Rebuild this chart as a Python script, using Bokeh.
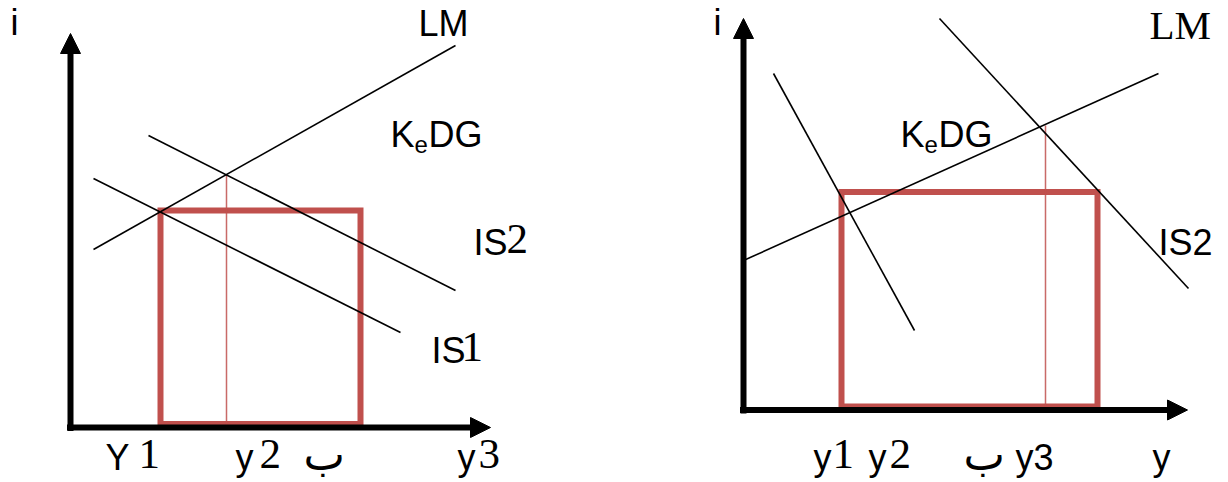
from bokeh.plotting import figure
from bokeh.models import Range1d, Arrow, NormalHead
from bokeh.layouts import row
from bokeh.core.properties import value
from bokeh.embed import file_html
from bokeh.resources import INLINE

RED = "#C0504D"
SANS = "Liberation Sans"
SERIF = "Liberation Serif"

# ---- left diagram: IS shifts from IS1 to IS2 along an upward LM ----
left_lm_x = [2.3, 38.5]
left_lm_y = [17.8, 38.2]
left_is1_x = [2.3, 33.0]
left_is1_y = [24.9, 9.5]
left_is2_x = [7.8, 38.5]
left_is2_y = [29.2, 13.7]
left_box_lr = [9.0, 29.0]
left_box_bt = [0.35, 21.7]
left_drop_x = [15.6, 15.6]
left_drop_y = [25.3, 0.0]
left_axis_tip = [42.0, 39.4]

# ---- right diagram: steep IS, flatter LM ----
right_lm_x = [0.0, 41.5]
right_lm_y = [14.95, 33.65]
right_is1_x = [3.0, 17.1]
right_is1_y = [33.65, 7.95]
right_is2_x = [19.6, 44.5]
right_is2_y = [39.15, 12.15]
right_box_lr = [9.8, 35.4]
right_box_bt = [0.35, 21.8]
right_drop_x = [30.2, 30.2]
right_drop_y = [28.45, 0.0]
right_axis_tip = [44.4, 39.15]


def panel(width, xr, yr):
    p = figure(width=width, height=482, x_range=Range1d(*xr), y_range=Range1d(*yr),
               output_backend="svg", toolbar_location=None, min_border=0,
               x_axis_location=None, y_axis_location=None)
    p.grid.visible = False
    p.outline_line_color = None
    p.background_fill_color = "white"
    p.border_fill_color = "white"
    return p


def draw(p, lm, is1, is2, box_lr, box_bt, drop, tip):
    p.quad(left=[box_lr[0]], right=[box_lr[1]], bottom=[box_bt[0]], top=[box_bt[1]],
           fill_color=None, line_color=RED, line_width=6, line_join="miter")
    p.line(drop[0], drop[1], line_color=RED, line_alpha=0.85, line_width=1.5)
    for xs, ys in (lm, is1, is2):
        p.line(xs, ys, line_color="black", line_width=1.6)
    head = dict(size=20, fill_color="black", line_color="black", line_width=1)
    p.add_layout(Arrow(end=NormalHead(**head), x_start=-0.35, y_start=0, x_end=tip[0], y_end=0,
                       line_width=6, line_color="black"))
    p.add_layout(Arrow(end=NormalHead(**head), x_start=0, y_start=-0.35, x_end=0, y_end=tip[1],
                       line_width=6, line_color="black"))


def label(p, xs, ys, texts, font, size):
    # baseline sits slightly high in the svg text layout; lift by a size-proportional amount
    p.text(x=xs, y=ys, text=texts, text_font=value(font), text_font_size=value(f"{size}px"),
           text_color="black", text_baseline="alphabetic", text_align="left",
           y_offset=-0.375 * size)


left = panel(614, (-7.0, 54.4), (-5.5, 42.7))
draw(left, (left_lm_x, left_lm_y), (left_is1_x, left_is1_y), (left_is2_x, left_is2_y),
     left_box_lr, left_box_bt, (left_drop_x, left_drop_y), left_axis_tip)
label(left, [-6.0, 34.8, 32.0, 35.8, 40.3, 36.1, 3.5, 16.5, 38.7],
      [39.2, 39.1, 28.0, 28.0, 17.2, 6.4, -4.3, -4.3, -4.3],
      ["i", "LM", "K", "DG", "IS", "IS", "Y", "y", "y"], SANS, 36)
label(left, [34.4], [27.4], ["e"], SANS, 24)
label(left, [43.6, 39.1, 6.8, 18.9, 40.8], [17.2, 6.4, -4.3, -4.3, -4.3],
      ["2", "1", "1", "2", "3"], SERIF, 43)
label(left, [23.3], [-4.3], ["ب"], "DejaVu Sans", 44)

right = panel(614, (-12.9, 48.5), (-7.25, 40.95))
draw(right, (right_lm_x, right_lm_y), (right_is1_x, right_is1_y), (right_is2_x, right_is2_y),
     right_box_lr, right_box_bt, (right_drop_x, right_drop_y), right_axis_tip)
label(right, [-3.0, 15.7, 19.5, 41.5, 7.0, 12.5, 27.2, 40.9],
      [37.45, 26.25, 26.25, 15.45, -6.05, -6.05, -6.05, -6.05],
      ["i", "K", "DG", "IS2", "y", "y", "y3", "y"], SANS, 36)
label(right, [18.1], [25.65], ["e"], SANS, 24)
label(right, [8.9, 14.6], [-6.05, -6.05], ["1", "2"], SERIF, 43)
label(right, [40.6], [37.0], ["LM"], SERIF, 41)
label(right, [22.0], [-6.05], ["ب"], "DejaVu Sans", 44)

layout = row(left, right)
open("out.html", "w").write(file_html(layout, INLINE))
